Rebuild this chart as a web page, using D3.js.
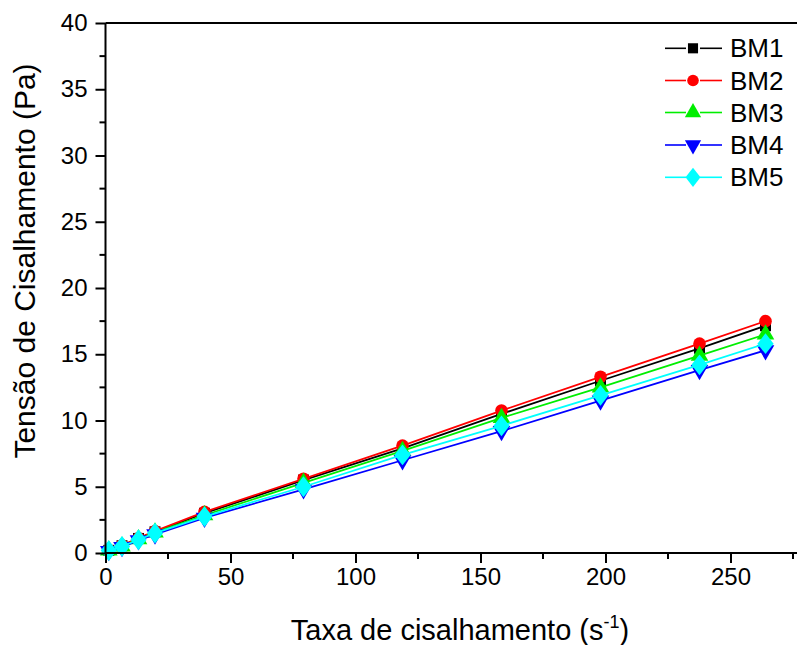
<!DOCTYPE html>
<html><head><meta charset="utf-8">
<script src="https://cdn.jsdelivr.net/npm/d3@7"></script>
<style>body{margin:0;background:#fff}svg{display:block}text{font-family:"Liberation Sans",Arial,sans-serif;fill:#000}</style>
</head><body>
<svg id="c" width="797" height="645"></svg>
<script>
const shearRate = [1.32, 6.6, 13.2, 19.8, 39.6, 79.2, 118.8, 158.4, 198, 237.6, 264];
const BM1 = [0.2, 0.55, 1.1, 1.6, 3.0, 5.5, 7.9, 10.5, 13.0, 15.45, 17.15];
const BM2 = [0.22, 0.58, 1.12, 1.65, 3.1, 5.6, 8.1, 10.75, 13.3, 15.8, 17.5];
const BM3 = [0.2, 0.5, 1.05, 1.55, 2.85, 5.3, 7.7, 10.2, 12.5, 14.9, 16.5];
const BM4 = [0.15, 0.45, 0.95, 1.4, 2.65, 4.8, 7.0, 9.2, 11.5, 13.8, 15.3];
const BM5 = [0.18, 0.5, 1.0, 1.5, 2.75, 5.0, 7.4, 9.6, 11.9, 14.2, 15.8];
const seriesNames = ["BM1", "BM2", "BM3", "BM4", "BM5"];
const seriesValues = [BM1, BM2, BM3, BM4, BM5];
const colors = ["#000000", "#ff0000", "#00ee00", "#0000ff", "#00ffff"];
const symbols = [d3.symbolSquare, d3.symbolCircle, d3.symbolTriangle, "down", d3.symbolDiamond];
const xTicks = [0, 50, 100, 150, 200, 250];
const yTicks = [0, 5, 10, 15, 20, 25, 30, 35, 40];

const svg = d3.select("#c");
const L = 105.5, R = 798, T = 23, B = 553;
const x = d3.scaleLinear().domain([0, 277]).range([L, R]);
const y = d3.scaleLinear().domain([0, 40]).range([B, T]);

function markerPath(sym, size) {
  if (sym === "down") return d3.symbol(d3.symbolTriangle, size)();
  return d3.symbol(sym, size)();
}
function drawMarker(g, i, cx, cy, scale) {
  const sym = symbols[i];
  const sizes = [120, 125, 135, 135, 125];
  const p = g.append("path").attr("d", markerPath(sym, sizes[i] * scale))
    .attr("fill", colors[i]);
  let tr = `translate(${cx},${cy})`;
  if (sym === "down") tr += " rotate(180)";
  if (sym === d3.symbolDiamond) tr += " scale(1.35,1)";
  p.attr("transform", tr);
}

// series
const line = d3.line().x(d => x(d[0])).y(d => y(d[1]));
seriesValues.forEach((vals, i) => {
  const pts = shearRate.map((r, k) => [r, vals[k]]);
  const g = svg.append("g");
  g.append("path").attr("d", line(pts)).attr("fill", "none")
    .attr("stroke", colors[i]).attr("stroke-width", 1.8);
  pts.forEach(p => drawMarker(g, i, x(p[0]), y(p[1]), 1));
});

// axes
const xAxis = d3.axisBottom(x).tickValues(xTicks).tickSize(10).tickPadding(5).tickFormat(d3.format("d"));
const gx = svg.append("g").attr("transform", `translate(0,${B})`).call(xAxis);
gx.selectAll(".tick text").attr("font-size", 24).attr("font-family", "Liberation Sans, Arial, sans-serif");
gx.append("g").selectAll("line").data([25, 75, 125, 175, 225, 275]).join("line")
  .attr("x1", d => x(d)).attr("x2", d => x(d)).attr("y1", 0).attr("y2", 6).attr("stroke", "#000").attr("stroke-width", 2);

const yAxis = d3.axisLeft(y).tickValues(yTicks).tickSize(10).tickPadding(8).tickFormat(d3.format("d"));
const gy = svg.append("g").attr("transform", `translate(${L},0)`).call(yAxis);
gy.selectAll(".tick text").attr("font-size", 24).attr("font-family", "Liberation Sans, Arial, sans-serif");
gy.append("g").selectAll("line").data(d3.range(2.5, 40, 5)).join("line")
  .attr("y1", d => y(d)).attr("y2", d => y(d)).attr("x1", 0).attr("x2", -6).attr("stroke", "#000").attr("stroke-width", 2);

gx.select(".domain").remove(); gy.select(".domain").remove();
svg.selectAll(".tick line").attr("stroke-width", 2);
svg.append("line").attr("x1", L).attr("x2", R).attr("y1", B).attr("y2", B).attr("stroke", "#000").attr("stroke-width", 2);
svg.append("line").attr("x1", L).attr("x2", L).attr("y1", T).attr("y2", B).attr("stroke", "#000").attr("stroke-width", 2);
svg.append("line").attr("x1", L).attr("x2", R).attr("y1", T).attr("y2", T).attr("stroke", "#000").attr("stroke-width", 2);

// titles
svg.append("text").attr("x", 460).attr("y", 640).attr("text-anchor", "middle").attr("font-size", 29)
  .text("Taxa de cisalhamento (s")
  .append("tspan").attr("font-size", 18).attr("dy", -12).text("-1")
  .select(function(){return this.parentNode;})
  .append("tspan").attr("dy", 12).text(")");
svg.append("text").attr("transform", "translate(35,261) rotate(-90)").attr("text-anchor", "middle")
  .attr("font-size", 30).text("Tensão de Cisalhamento (Pa)");

// legend
const legY = [48.3, 80.5, 112.5, 145, 177.3];
seriesNames.forEach((n, i) => {
  const g = svg.append("g");
  const yy = legY[i];
  g.append("line").attr("x1", 665).attr("x2", 686).attr("y1", yy).attr("y2", yy).attr("stroke", colors[i]).attr("stroke-width", 1.6);
  g.append("line").attr("x1", 700).attr("x2", 722).attr("y1", yy).attr("y2", yy).attr("stroke", colors[i]).attr("stroke-width", 1.6);
  drawMarker(g, i, 693, yy, 0.85);
  g.append("text").attr("x", 730).attr("y", yy + 9).attr("font-size", 26).text(n);
});
</script>
</body></html>
